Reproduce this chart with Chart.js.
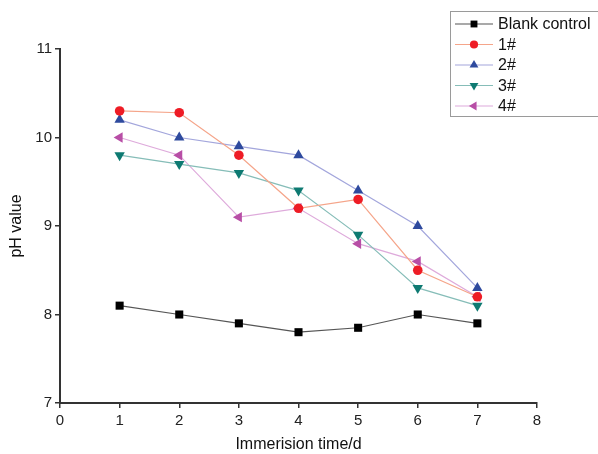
<!DOCTYPE html>
<html>
<head>
<meta charset="utf-8">
<script src="https://cdn.jsdelivr.net/npm/chart.js@4/dist/chart.umd.min.js"></script>
<style>
html,body{margin:0;padding:0;background:#fff;}
#wrap{width:598px;height:454px;position:relative;}
</style>
</head>
<body>
<div id="wrap"><canvas id="c" width="598" height="454"></canvas></div>
<script>
const days = [1, 2, 3, 4, 5, 6, 7];
const seriesNames = ["Blank control", "1#", "2#", "3#", "4#"];
const blankControl = [8.1, 8.0, 7.9, 7.8, 7.85, 8.0, 7.9];
const s1 = [10.3, 10.28, 9.8, 9.2, 9.3, 8.5, 8.2];
const s2 = [10.2, 10.0, 9.9, 9.8, 9.4, 9.0, 8.3];
const s3 = [9.8, 9.7, 9.6, 9.4, 8.9, 8.3, 8.1];
const s4 = [10.0, 9.8, 9.1, 9.2, 8.8, 8.6, 8.2];
const xTicks = [0, 1, 2, 3, 4, 5, 6, 7, 8];
const yTicks = [7, 8, 9, 10, 11];

const values = [blankControl, s1, s2, s3, s4];
const lineColors = ["#555555", "#f5a58a", "#a3a6dc", "#86bdb8", "#deaadb"];
const markColors = ["#000000", "#ee1c25", "#2e4a9e", "#0e7a72", "#b84ea6"];
const styles = ["rect", "circle", "triangle", "triangle", "triangle"];
const rotations = [0, 0, 0, 180, 270];
const radii = [5.7, 4.8, 6, 6, 6];

const FONT = "'Liberation Sans', Arial, sans-serif";

const datasets = values.map((v, i) => ({
  label: seriesNames[i],
  data: v.map((y, j) => ({x: days[j], y})),
  borderColor: lineColors[i],
  backgroundColor: markColors[i],
  pointBackgroundColor: markColors[i],
  pointBorderColor: markColors[i],
  pointBorderWidth: 0,
  pointStyle: styles[i],
  pointRotation: rotations[i],
  pointRadius: radii[i],
  borderWidth: 1.2,
  tension: 0,
  fill: false
}));

const legendPlugin = {
  id: 'boxLegend',
  afterDraw(chart) {
    const ctx = chart.ctx;
    ctx.save();
    ctx.strokeStyle = '#9a9a9a';
    ctx.lineWidth = 1;
    ctx.strokeRect(450.5, 11.5, 160, 105);
    chart.data.datasets.forEach((ds, i) => {
      const y = 24 + i * 20.5;
      ctx.strokeStyle = ds.borderColor;
      ctx.lineWidth = 1.2;
      ctx.beginPath();
      ctx.moveTo(455, y);
      ctx.lineTo(493, y);
      ctx.stroke();
      ctx.fillStyle = ds.pointBackgroundColor;
      ctx.strokeStyle = ds.pointBorderColor;
      Chart.helpers.drawPoint(ctx, {pointStyle: ds.pointStyle, rotation: ds.pointRotation, radius: ds.pointRadius * 0.85, borderWidth: 0}, 474, y);
      ctx.fillStyle = '#111';
      ctx.font = '16px ' + FONT;
      ctx.textBaseline = 'middle';
      ctx.textAlign = 'left';
      ctx.fillText(ds.label, 498, y + 1);
    });
    ctx.restore();
  }
};

new Chart(document.getElementById('c'), {
  type: 'line',
  data: { datasets },
  plugins: [legendPlugin],
  options: {
    responsive: false,
    animation: false,
    devicePixelRatio: 1,
    layout: { padding: { top: 49, right: 61, left: 0, bottom: 0 } },
    plugins: { legend: { display: false }, tooltip: { enabled: false } },
    scales: {
      x: {
        type: 'linear',
        min: 0, max: 8,
        afterBuildTicks(s) { s.ticks = xTicks.map(v => ({value: v})); },
        afterFit(s) { s.height = 51; },
        grid: { drawOnChartArea: false, drawTicks: true, tickLength: 5, tickColor: '#333', lineWidth: 1.5 },
        border: { color: '#333', width: 2 },
        ticks: { color: '#222', font: { size: 15, family: FONT }, padding: 4 },
        title: { display: true, text: 'Immerision time/d', color: '#111', font: { size: 16, family: FONT }, padding: { top: 0, bottom: 0 } }
      },
      y: {
        type: 'linear',
        min: 7, max: 11,
        afterBuildTicks(s) { s.ticks = yTicks.map(v => ({value: v})); },
        afterFit(s) { s.width = 60; },
        grid: { drawOnChartArea: false, drawTicks: true, tickLength: 5, tickColor: '#333', lineWidth: 1.5 },
        border: { color: '#333', width: 2 },
        ticks: { color: '#222', font: { size: 15, family: FONT }, padding: 3 },
        title: { display: true, text: 'pH value', color: '#111', font: { size: 16, family: FONT }, padding: { top: 7, bottom: 0 } }
      }
    }
  }
});
</script>
</body>
</html>
